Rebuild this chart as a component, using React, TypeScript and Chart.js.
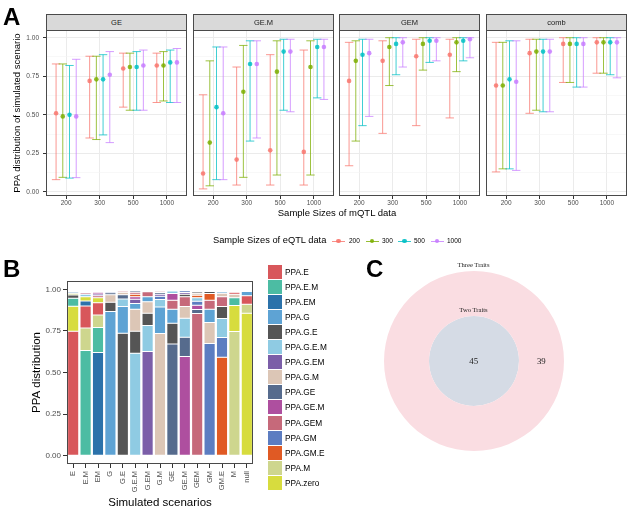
import React, { useEffect, useRef } from 'react';
import { Chart, registerables } from 'chart.js';
Chart.register(...registerables);

const SANS = '"Liberation Sans", Arial, Helvetica, sans-serif';
const SERIF = '"Liberation Serif", "Times New Roman", serif';

// ---------------- Panel A data ----------------
const MQTL_SIZES = ['200', '300', '500', '1000'];
const EQTL_SIZES = ['200', '300', '500', '1000'];
const EQTL_COLORS = ['#F8766D', '#7CAE00', '#00BFC4', '#C77CFF'];
const FACETS = ['GE', 'GE.M', 'GEM', 'comb'];

// rows: eQTL size (200,300,500,1000); columns: mQTL size (200,300,500,1000)
const GE_MID = [[0.51, 0.72, 0.80, 0.82], [0.49, 0.73, 0.81, 0.82], [0.50, 0.73, 0.81, 0.84], [0.49, 0.76, 0.82, 0.84]];
const GE_LO = [[0.08, 0.35, 0.55, 0.58], [0.095, 0.34, 0.53, 0.59], [0.09, 0.37, 0.53, 0.58], [0.093, 0.32, 0.53, 0.58]];
const GE_HI = [[0.83, 0.88, 0.90, 0.90], [0.83, 0.88, 0.90, 0.91], [0.82, 0.89, 0.91, 0.92], [0.86, 0.91, 0.92, 0.93]];

const GEdotM_MID = [[0.12, 0.21, 0.27, 0.26], [0.32, 0.65, 0.78, 0.81], [0.55, 0.83, 0.91, 0.94], [0.51, 0.83, 0.91, 0.94]];
const GEdotM_LO = [[0.02, 0.045, 0.045, 0.045], [0.04, 0.095, 0.11, 0.11], [0.08, 0.33, 0.53, 0.61], [0.08, 0.35, 0.52, 0.60]];
const GEdotM_HI = [[0.63, 0.81, 0.89, 0.92], [0.85, 0.95, 0.98, 0.98], [0.94, 0.98, 0.99, 0.99], [0.94, 0.98, 0.99, 0.99]];

const GEM_MID = [[0.72, 0.85, 0.88, 0.89], [0.85, 0.94, 0.96, 0.97], [0.89, 0.96, 0.98, 0.98], [0.90, 0.97, 0.98, 0.99]];
const GEM_LO = [[0.17, 0.38, 0.43, 0.48], [0.33, 0.69, 0.79, 0.78], [0.43, 0.76, 0.84, 0.85], [0.49, 0.81, 0.85, 0.87]];
const GEM_HI = [[0.97, 0.98, 0.99, 0.99], [0.98, 1.0, 1.0, 1.0], [0.99, 1.0, 1.0, 1.0], [0.99, 1.0, 1.0, 1.0]];

const COMB_MID = [[0.69, 0.90, 0.96, 0.97], [0.69, 0.91, 0.96, 0.97], [0.73, 0.91, 0.96, 0.97], [0.715, 0.91, 0.96, 0.97]];
const COMB_LO = [[0.13, 0.51, 0.71, 0.77], [0.15, 0.53, 0.71, 0.77], [0.15, 0.52, 0.68, 0.76], [0.14, 0.52, 0.68, 0.74]];
const COMB_HI = [[0.97, 0.99, 1.0, 1.0], [0.97, 0.99, 1.0, 1.0], [0.98, 0.99, 1.0, 1.0], [0.98, 0.99, 1.0, 1.0]];

const Y_A_TICKS = [0, 0.125, 0.25, 0.375, 0.5, 0.625, 0.75, 0.875, 1];

// ---------------- Panel B data ----------------
const SCENARIOS = ['E', 'E.M', 'EM', 'G', 'G.E', 'G.E.M', 'G.EM', 'G.M', 'GE', 'GE.M', 'GEM', 'GM', 'GM.E', 'M', 'null'];
const COMPONENTS = ['PPA.E', 'PPA.E.M', 'PPA.EM', 'PPA.G', 'PPA.G.E', 'PPA.G.E.M', 'PPA.G.EM', 'PPA.G.M', 'PPA.GE', 'PPA.GE.M', 'PPA.GEM', 'PPA.GM', 'PPA.GM.E', 'PPA.M', 'PPA.zero'];
const COMPONENT_COLORS = ['#d8575b', '#4cbca3', '#2b72aa', '#5ea3d4', '#555555', '#8fcbe3', '#7b5ea8', '#dcc6b6', '#566b8d', '#ae4f9f', '#c6697a', '#5c7dc1', '#e05a24', '#ced68e', '#d7dc3e'];

const PPA_E = [0.748, 0.132, 0.074, 0.001, 0.004, 0.001, 0.001, 0.001, 0.001, 0, 0.001, 0, 0.001, 0.012, 0.052];
const PPA_E_M = [0.048, 0.632, 0.15, 0.001, 0.001, 0, 0, 0, 0, 0, 0, 0, 0, 0.048, 0.005];
const PPA_EM = [0.008, 0.03, 0.62, 0.001, 0, 0, 0, 0, 0, 0, 0, 0, 0, 0.006, 0.002];
const PPA_G = [0.006, 0.005, 0.004, 0.866, 0.16, 0.035, 0.03, 0.16, 0.084, 0.006, 0.006, 0.08, 0.01, 0.004, 0.025];
const PPA_G_E = [0.02, 0.004, 0.003, 0.056, 0.736, 0.132, 0.074, 0.005, 0.124, 0.015, 0.01, 0.012, 0.072, 0, 0];
const PPA_G_E_M = [0.002, 0.015, 0.006, 0.005, 0.046, 0.616, 0.156, 0.045, 0.015, 0.114, 0.02, 0.004, 0.114, 0.002, 0];
const PPA_G_EM = [0.001, 0.002, 0.01, 0.001, 0.002, 0.025, 0.626, 0.012, 0.001, 0.01, 0.005, 0.001, 0.002, 0, 0];
const PPA_G_M = [0.002, 0.003, 0.002, 0.045, 0.015, 0.132, 0.07, 0.734, 0.005, 0.07, 0.012, 0.126, 0.02, 0.02, 0.004];
const PPA_GE = [0.001, 0.002, 0.001, 0.012, 0.025, 0.01, 0.004, 0.01, 0.672, 0.116, 0.025, 0.006, 0.006, 0.001, 0.001];
const PPA_GE_M = [0.001, 0.002, 0.01, 0.001, 0.002, 0.015, 0.006, 0, 0.04, 0.596, 0.025, 0.002, 0.004, 0, 0];
const PPA_GEM = [0.001, 0.01, 0.012, 0.003, 0.008, 0.012, 0.03, 0.008, 0.055, 0.06, 0.854, 0.055, 0.06, 0.002, 0];
const PPA_GM = [0.001, 0.002, 0.001, 0.008, 0.001, 0.005, 0.002, 0.02, 0.003, 0.01, 0.025, 0.674, 0.118, 0.003, 0.001];
const PPA_GM_E = [0.001, 0, 0.001, 0, 0, 0.015, 0, 0.003, 0, 0.002, 0.015, 0.04, 0.592, 0, 0];
const PPA_M = [0.01, 0.136, 0.076, 0, 0, 0.001, 0, 0.002, 0, 0.001, 0, 0, 0, 0.746, 0.054];
const PPA_zero = [0.15, 0.025, 0.03, 0, 0, 0.001, 0.001, 0, 0, 0, 0.002, 0, 0.001, 0.156, 0.856];
const Y_B_TICKS = [0, 0.25, 0.5, 0.75, 1];

// ---------------- Panel C data ----------------
const VENN_THREE_ONLY = 39;
const VENN_SHARED = 45;

// ---------------- helpers ----------------
const FACET_DATA = [
  { mid: GE_MID, lo: GE_LO, hi: GE_HI },
  { mid: GEdotM_MID, lo: GEdotM_LO, hi: GEdotM_HI },
  { mid: GEM_MID, lo: GEM_LO, hi: GEM_HI },
  { mid: COMB_MID, lo: COMB_LO, hi: COMB_HI },
];
const COMPONENT_VALUES = [PPA_E, PPA_E_M, PPA_EM, PPA_G, PPA_G_E, PPA_G_E_M, PPA_G_EM, PPA_G_M, PPA_GE, PPA_GE_M, PPA_GEM, PPA_GM, PPA_GM_E, PPA_M, PPA_zero];

const DODGE = [-0.3, -0.1, 0.1, 0.3];
const CAP_HALF = 0.125;
const FACET_LEFT = [46, 193, 339, 486];
const FACET_W = 141;
const PAD = 10;

const rgba = (hex: string, a: number) => {
  const n = parseInt(hex.slice(1), 16);
  return `rgba(${(n >> 16) & 255},${(n >> 8) & 255},${n & 255},${a})`;
};
const isMajor = (v: number) => Math.abs(v * 4 - Math.round(v * 4)) < 1e-6;

const errorBars = {
  id: 'errorBars',
  beforeDatasetsDraw(chart: any) {
    const { ctx } = chart;
    const x = chart.scales.x;
    const y = chart.scales.y;
    ctx.save();
    ctx.lineWidth = 1;
    chart.data.datasets.forEach((ds: any) => {
      ctx.strokeStyle = ds.errColor;
      ds.data.forEach((pt: any, i: number) => {
        const px = x.getPixelForValue(pt.x);
        const pl = x.getPixelForValue(pt.x - CAP_HALF);
        const pr = x.getPixelForValue(pt.x + CAP_HALF);
        const yl = y.getPixelForValue(ds.errLo[i]);
        const yh = y.getPixelForValue(ds.errHi[i]);
        ctx.beginPath();
        ctx.moveTo(px, yl); ctx.lineTo(px, yh);
        ctx.moveTo(pl, yl); ctx.lineTo(pr, yl);
        ctx.moveTo(pl, yh); ctx.lineTo(pr, yh);
        ctx.stroke();
      });
    });
    ctx.restore();
  },
};

const panelBorder = {
  id: 'panelBorder',
  afterDraw(chart: any) {
    const { ctx, chartArea: a } = chart;
    ctx.save();
    ctx.strokeStyle = '#4a4a4a';
    ctx.lineWidth = 1;
    ctx.strokeRect(a.left + 0.5, a.top + 0.5, a.right - a.left - 1, a.bottom - a.top - 1);
    ctx.restore();
  },
};

function FacetChart({ idx }: { idx: number }) {
  const ref = useRef<HTMLCanvasElement>(null);
  const first = idx === 0;
  const padL = first ? 0 : PAD;
  const yW = first ? FACET_LEFT[0] : 0;
  const left = FACET_LEFT[idx] - yW - padL;
  const w = padL + yW + FACET_W + PAD;
  const top = 30 - PAD;
  const h = PAD + 166 + 20;
  useEffect(() => {
    const { mid, lo, hi } = FACET_DATA[idx];
    const chart = new Chart(ref.current as HTMLCanvasElement, {
      type: 'scatter',
      data: {
        datasets: EQTL_SIZES.map((label, e) => ({
          label,
          data: mid[e].map((v: number, m: number) => ({ x: m + 1 + DODGE[e], y: v })),
          errLo: lo[e],
          errHi: hi[e],
          errColor: rgba(EQTL_COLORS[e], 0.75),
          backgroundColor: rgba(EQTL_COLORS[e], 0.85),
          borderWidth: 0,
          pointRadius: 2.3,
        })) as any,
      },
      options: {
        animation: false,
        responsive: false,
        devicePixelRatio: 1,
        events: [],
        layout: { padding: { top: PAD, right: PAD, left: padL, bottom: 0 } },
        plugins: { legend: { display: false }, tooltip: { enabled: false } },
        scales: {
          x: {
            type: 'linear',
            min: 0.4,
            max: 4.6,
            afterBuildTicks: (s: any) => { s.ticks = [1, 2, 3, 4].map((v) => ({ value: v })); },
            afterFit: (s: any) => { s.height = 20; },
            ticks: {
              callback: (v: any) => MQTL_SIZES[Math.round(v) - 1],
              font: { family: SANS, size: 6.5 },
              color: '#4d4d4d',
              padding: 0,
              maxRotation: 0,
              autoSkip: false,
            },
            grid: { color: '#ebebeb', lineWidth: 1, tickColor: '#333333', tickLength: 3 },
            border: { display: false },
          },
          y: {
            type: 'linear',
            min: -0.026,
            max: 1.05,
            afterBuildTicks: (s: any) => { s.ticks = Y_A_TICKS.map((v) => ({ value: v })); },
            afterFit: (s: any) => { s.width = yW; },
            ticks: {
              display: first,
              callback: (v: any) => (isMajor(v) ? Number(v).toFixed(2) : ''),
              font: { family: SANS, size: 6.5 },
              color: '#4d4d4d',
              padding: 4,
            },
            grid: {
              color: (c: any) => (isMajor(c.tick ? c.tick.value : 0) ? '#ebebeb' : '#f4f4f4'),
              lineWidth: (c: any) => (isMajor(c.tick ? c.tick.value : 0) ? 1 : 0.6),
              tickColor: (c: any) => (isMajor(c.tick ? c.tick.value : 0) ? '#333333' : 'rgba(0,0,0,0)'),
              drawTicks: first,
              tickLength: 3,
            },
            border: { display: false },
            title: {
              display: first,
              text: 'PPA distribution of simulated scenario',
              font: { family: SANS, size: 9.5 },
              color: '#000000',
              padding: { top: 12, bottom: 0 },
            },
          },
        },
      } as any,
      plugins: [errorBars, panelBorder],
    });
    return () => chart.destroy();
  }, [idx]);
  return <canvas ref={ref} width={w} height={h} style={{ position: 'absolute', left, top, width: w, height: h }} />;
}

function StackedBars() {
  const ref = useRef<HTMLCanvasElement>(null);
  const left = 20;
  const top = 281 - PAD;
  const w = 47 + 186 + PAD;
  const h = PAD + 183 + 46;
  useEffect(() => {
    // floating segments: within each scenario, largest component at the bottom
    const segs = COMPONENTS.map(() => SCENARIOS.map(() => null as any));
    SCENARIOS.forEach((_, s) => {
      const order = COMPONENTS.map((_, c) => c).sort((a, b) => COMPONENT_VALUES[b][s] - COMPONENT_VALUES[a][s]);
      let acc = 0;
      order.forEach((c) => {
        const v = COMPONENT_VALUES[c][s];
        if (v > 0) segs[c][s] = [acc, acc + v];
        acc += v;
      });
    });
    const chart = new Chart(ref.current as HTMLCanvasElement, {
      type: 'bar',
      data: {
        labels: SCENARIOS,
        datasets: COMPONENTS.map((name, c) => ({
          label: name,
          data: segs[c],
          backgroundColor: COMPONENT_COLORS[c],
          borderColor: '#ffffff',
          borderWidth: 0.5,
          borderSkipped: false,
          grouped: false,
          barPercentage: 0.9,
          categoryPercentage: 1,
        })) as any,
      },
      options: {
        animation: false,
        responsive: false,
        devicePixelRatio: 1,
        events: [],
        layout: { padding: { top: PAD, right: PAD, left: 0, bottom: 0 } },
        plugins: { legend: { display: false }, tooltip: { enabled: false } },
        scales: {
          x: {
            type: 'category',
            offset: true,
            afterFit: (s: any) => { s.height = 46; },
            ticks: { font: { family: SANS, size: 7.5 }, color: '#4d4d4d', maxRotation: 90, minRotation: 90, autoSkip: false, padding: 3 },
            grid: { display: true, offset: false, drawOnChartArea: false, drawTicks: true, tickLength: 4, tickColor: '#333333' },
            border: { display: false },
            title: { display: true, text: 'Simulated scenarios', font: { family: SANS, size: 11.5 }, color: '#000000', padding: { top: 0, bottom: 0 } },
          },
          y: {
            type: 'linear',
            min: -0.05,
            max: 1.05,
            afterBuildTicks: (s: any) => { s.ticks = Y_B_TICKS.map((v) => ({ value: v })); },
            afterFit: (s: any) => { s.width = 47; },
            ticks: { callback: (v: any) => Number(v).toFixed(2), font: { family: SANS, size: 8 }, color: '#4d4d4d', padding: 2 },
            grid: { display: true, drawOnChartArea: false, drawTicks: true, tickLength: 4, tickColor: '#333333' },
            border: { display: false },
            title: { display: true, text: 'PPA distribution', font: { family: SANS, size: 11.5 }, color: '#000000', padding: { top: 10, bottom: 0 } },
          },
        },
      } as any,
      plugins: [panelBorder],
    });
    return () => chart.destroy();
  }, []);
  return <canvas ref={ref} width={w} height={h} style={{ position: 'absolute', left, top, width: w, height: h }} />;
}

function Venn() {
  const ref = useRef<HTMLCanvasElement>(null);
  useEffect(() => {
    const chart = new Chart(ref.current as HTMLCanvasElement, {
      type: 'doughnut',
      data: {
        labels: ['Three Traits', 'Two Traits'],
        datasets: [
          { data: [VENN_THREE_ONLY], backgroundColor: ['#fadde2'], borderWidth: 0 },
          { data: [VENN_SHARED], backgroundColor: ['#d5dbe5'], borderWidth: 0 },
        ],
      },
      options: {
        animation: false,
        responsive: false,
        devicePixelRatio: 1,
        events: [],
        cutout: 0,
        plugins: { legend: { display: false }, tooltip: { enabled: false } },
      } as any,
    });
    return () => chart.destroy();
  }, []);
  return <canvas ref={ref} width={180} height={180} style={{ position: 'absolute', left: 384, top: 271, width: 180, height: 180 }} />;
}

function Txt(props: { x: number; y: number; size: number; children: any; family?: string; color?: string; weight?: any; anchor?: 'left' | 'center' }) {
  const { x, y, size, children, family = SANS, color = '#000', weight = 'normal', anchor = 'center' } = props;
  return (
    <div
      style={{
        position: 'absolute',
        left: x,
        top: y,
        transform: anchor === 'center' ? 'translate(-50%,-50%)' : 'translate(0,-50%)',
        fontFamily: family,
        fontSize: size,
        lineHeight: 1,
        color,
        fontWeight: weight,
        whiteSpace: 'nowrap',
      }}
    >
      {children}
    </div>
  );
}

const LEG_A_SYM_X = [338.5, 372, 404.5, 437];
const LEG_A_TXT_X = [349, 382, 414, 447];

export default function App() {
  return (
    <div style={{ position: 'fixed', left: 0, top: 0, width: 631, height: 510, background: '#ffffff', overflow: 'hidden', fontFamily: SANS }}>
      {/* Panel A */}
      {FACETS.map((_, i) => <FacetChart key={i} idx={i} />)}
      {FACETS.map((name, i) => (
        <div
          key={name}
          style={{
            position: 'absolute', left: FACET_LEFT[i], top: 14, width: FACET_W, height: 17, boxSizing: 'border-box',
            background: '#d9d9d9', border: '1px solid #4a4a4a', fontSize: 7.5, color: '#1a1a1a',
            display: 'flex', alignItems: 'center', justifyContent: 'center', fontFamily: SANS,
          }}
        >
          {name}
        </div>
      ))}
      <Txt x={337} y={213} size={9.5}>Sample Sizes of mQTL data</Txt>
      <Txt x={213} y={241} size={9.3} anchor="left">Sample Sizes of eQTL data</Txt>
      {EQTL_SIZES.map((s, i) => (
        <React.Fragment key={s}>
          <div style={{ position: 'absolute', left: LEG_A_SYM_X[i] - 6.5, top: 240.5, width: 13, height: 1, background: rgba(EQTL_COLORS[i], 0.8) }} />
          <div style={{ position: 'absolute', left: LEG_A_SYM_X[i] - 2.3, top: 238.7, width: 4.6, height: 4.6, borderRadius: '50%', background: rgba(EQTL_COLORS[i], 0.9) }} />
          <Txt x={LEG_A_TXT_X[i]} y={241} size={6.5} anchor="left" color="#000">{s}</Txt>
        </React.Fragment>
      ))}

      {/* Panel B */}
      <StackedBars />
      {COMPONENTS.map((name, i) => (
        <React.Fragment key={name}>
          <div style={{ position: 'absolute', left: 268, top: 265 + 15.05 * i, width: 14, height: 14, background: COMPONENT_COLORS[i] }} />
          <Txt x={285} y={272 + 15.05 * i} size={8.3} anchor="left">{name}</Txt>
        </React.Fragment>
      ))}

      {/* Panel C */}
      <Venn />
      <Txt x={473.5} y={265} size={6.6} family={SERIF} color="#222">Three Traits</Txt>
      <Txt x={473.5} y={309.5} size={6.6} family={SERIF} color="#222">Two Traits</Txt>
      <Txt x={473.7} y={361} size={8.8} family={SERIF} color="#222">{VENN_SHARED}</Txt>
      <Txt x={541.3} y={361} size={8.8} family={SERIF} color="#222">{VENN_THREE_ONLY}</Txt>

      {/* Panel letters */}
      <div style={{ position: 'absolute', left: 3, top: 5, fontSize: 24, lineHeight: '24px', fontWeight: 'bold', fontFamily: SANS }}>A</div>
      <div style={{ position: 'absolute', left: 3, top: 257, fontSize: 24, lineHeight: '24px', fontWeight: 'bold', fontFamily: SANS }}>B</div>
      <div style={{ position: 'absolute', left: 366, top: 257, fontSize: 24, lineHeight: '24px', fontWeight: 'bold', fontFamily: SANS }}>C</div>
    </div>
  );
}
